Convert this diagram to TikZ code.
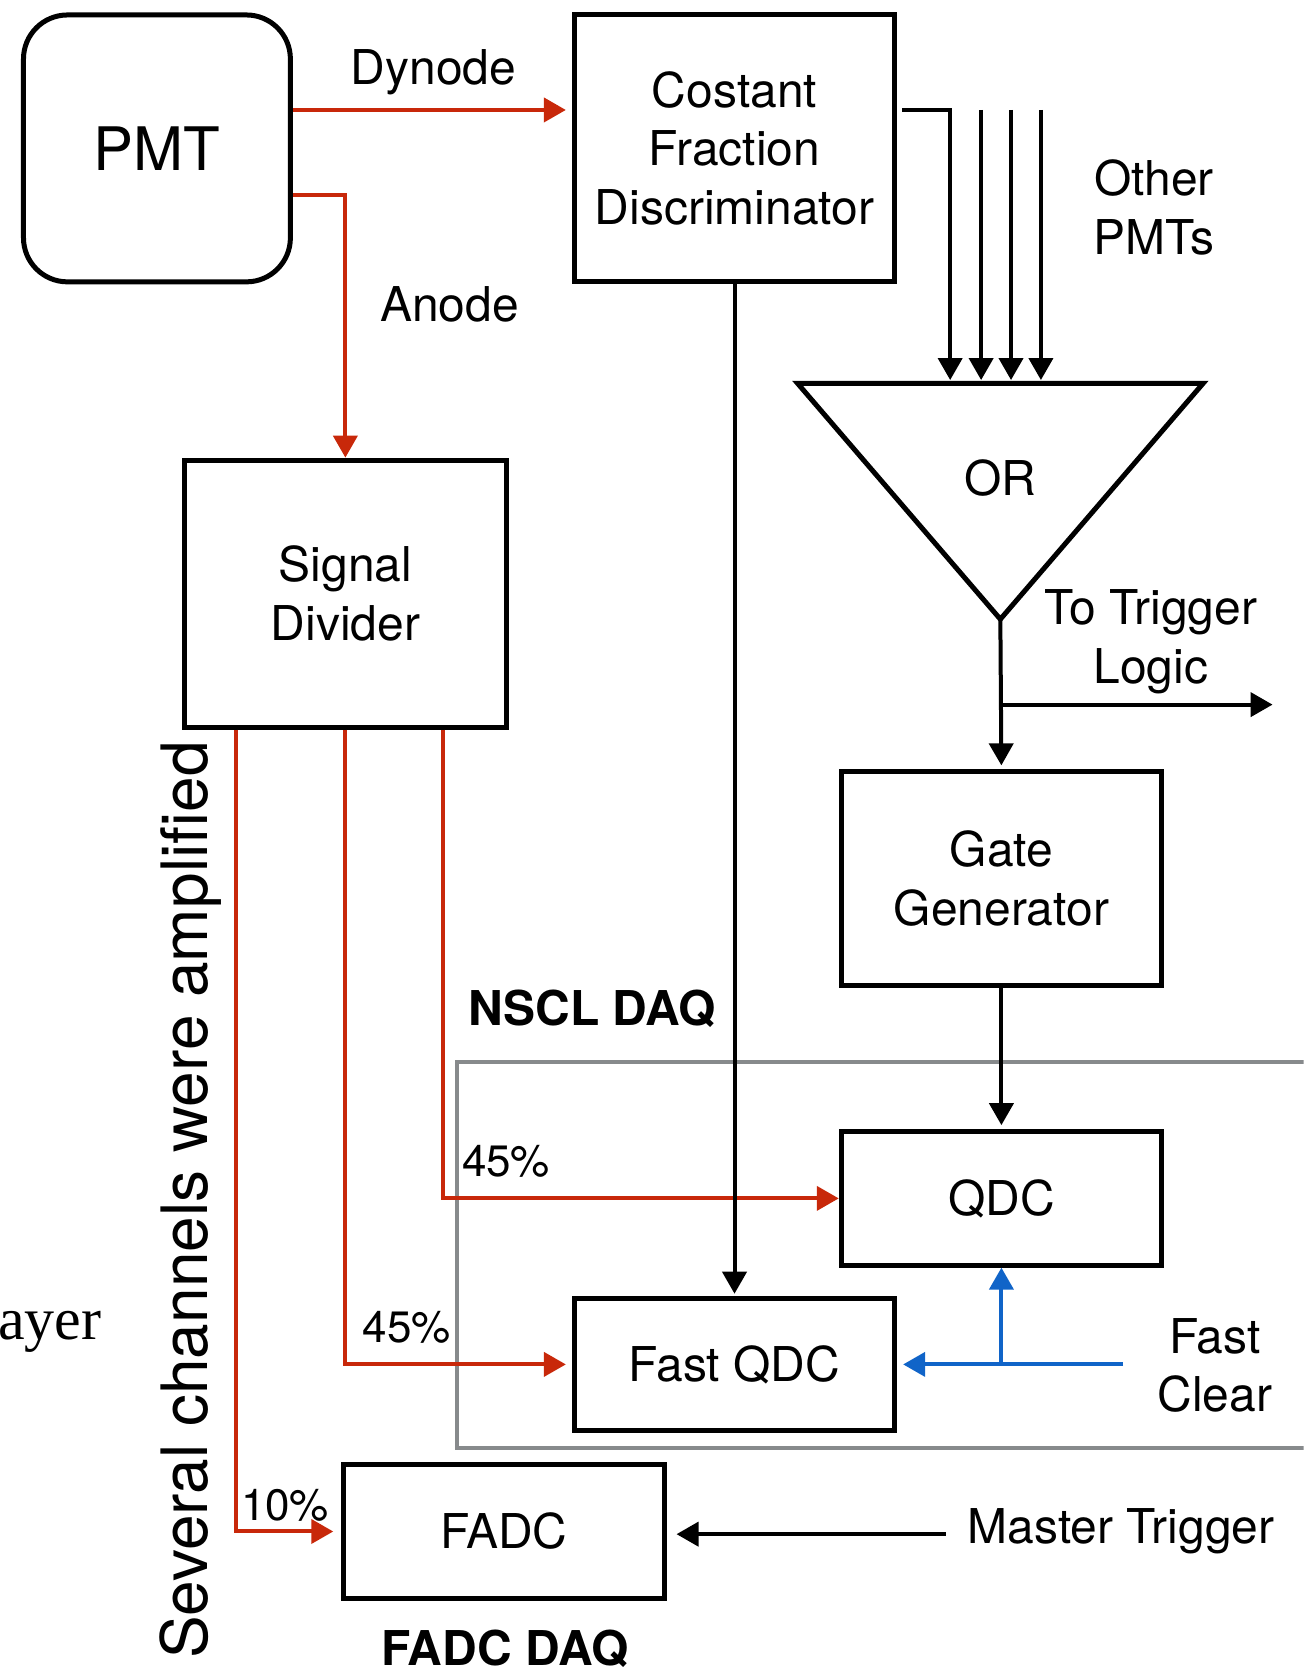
\documentclass[tikz,border=0pt]{standalone}
\usepackage{fontspec}
\setmainfont{TeX Gyre Heros}
\newfontfamily\serifface{Liberation Serif}
\usetikzlibrary{arrows.meta}
\definecolor{sigred}{RGB}{200,40,10}
\definecolor{fcblue}{RGB}{16,100,200}
\definecolor{daqgray}{RGB}{135,138,140}
\begin{document}
\begin{tikzpicture}[x=0.534pt,y=-0.534pt,
  box/.style={draw,line width=2.5pt,minimum width=160.2pt,inner sep=0pt,align=center,
    font=\fontsize{24}{29.4}\selectfont},
  lbl/.style={inner sep=0pt,align=center,font=\fontsize{24}{29.4}\selectfont},
  pct/.style={inner sep=0pt,font=\fontsize{22}{26}\selectfont},
  daq/.style={inner sep=0pt,font=\fontsize{24}{29}\selectfont\bfseries},
  tipp/.style={-{Triangle[length=11pt,width=12pt]}},
  sig/.style={sigred,line width=2pt,tipp},
  blk/.style={black,line width=2pt,tipp},
  blu/.style={fcblue,line width=2pt,tipp}
]
\useasboundingbox (0,0) rectangle (1221,1568);
\clip (0,0) rectangle (1221,1568);

% NSCL DAQ frame
\draw[daqgray,line width=2pt] (428,995) rectangle (1240,1356);

% boxes
\node[box,rounded corners=22pt,minimum width=133.5pt,minimum height=133.5pt,
  font=\fontsize{30}{36}\selectfont] (pmt) at (147,139) {PMT};
\node[box,minimum height=133.5pt] (cfd) at (688,139) {Costant\\Fraction\\Discriminator};
\node[box,minimum width=160.7pt,minimum height=133.5pt] (sd) at (323.5,556) {Signal\\Divider};
\node[box,minimum height=106.8pt] (gg) at (938,823) {Gate\\Generator};
\node[box,minimum height=66.75pt] (qdc) at (938,1122.5) {QDC};
\node[box,minimum height=66.2pt] (fqdc) at (688,1278) {Fast QDC};
\node[box,minimum height=66.75pt] (fadc) at (472,1434.5) {FADC};

% OR gate
\coordinate (ortl) at (747,359);
\coordinate (ortr) at (1127,359);
\coordinate (orb) at (937,580);
\draw[line width=2.5pt,line join=miter] (ortl) -- (ortr) -- (orb) -- cycle;
\node[lbl] (ortxt) at (937,448) {OR};

% helper coordinates
\coordinate (ydyn) at (0,103);
\coordinate (yan) at (0,183);
\coordinate (x10) at (221,0);
\coordinate (x45) at (415,0);
\coordinate (or1) at (890,356);
\coordinate (or2s) at (919,103);
\coordinate (or2) at (919,356);
\coordinate (or3s) at (947,103);
\coordinate (or3) at (947,356);
\coordinate (or4s) at (975,103);
\coordinate (or4) at (975,356);
\coordinate (brk) at (937,660);
\coordinate (trg) at (1192,660);
\coordinate (fcs) at (1052,1278);
\coordinate (fcb) at (938,1278);
\coordinate (mts) at (886,1437);

% red signal lines
\draw[sig,shorten >=3pt] (pmt.east |- ydyn) -- (cfd.west |- ydyn);
\draw[sig] (pmt.east |- yan) -| (sd.north);
\draw[sig,shorten >=4pt] (sd.south -| x10) |- (fadc.west);
\draw[sig,shorten >=3pt] (sd.south) |- (fqdc.west);
\draw[sig] (sd.south -| x45) |- (qdc.west);

% black logic lines
\draw[blk,shorten >=1pt] (cfd.south) -- (fqdc.north);
\draw[blk,shorten <=2.5pt] (cfd.east |- ydyn) -| (or1);
\draw[blk] (or2s) -- (or2);
\draw[blk] (or3s) -- (or3);
\draw[blk] (or4s) -- (or4);
\draw[blk,shorten >=2pt] (orb) -- (gg.north);
\draw[blk] (brk) -- (trg);
\draw[blk,shorten >=2pt] (gg.south) -- (qdc.north);
\draw[blk,shorten >=5pt] (mts) -- (fadc.east |- mts);

% fast clear
\draw[blu,shorten >=3pt] (fcs) -- (fqdc.east);
\draw[blu] (fcb) -- (qdc.south);

% labels
\node[lbl,anchor=base] (ldyn) at (406,79) {Dynode};
\node[lbl,anchor=base] (lan) at (421,301) {Anode};
\node[lbl] (lother) at (1081,194) {Other\\PMTs};
\node[lbl] (ltrig) at (1078,601) {To Trigger\\Logic};
\node[lbl] (lfc) at (1138,1279) {Fast\\Clear};
\node[lbl] (lmt) at (1050,1434) {Master Trigger};
\node[pct] (p45a) at (474,1088) {45\%};
\node[pct] (p45b) at (381,1243) {45\%};
\node[pct] (p10) at (267,1410) {10\%};
\node[daq] (nscl) at (555,945) {NSCL DAQ};
\node[daq] (fadcdaq) at (473,1544) {FADC DAQ};
\node[inner sep=0pt,font=\fontsize{32}{38}\selectfont,rotate=90,anchor=base] (amp)
  at (194,1124) {Several channels were amplified};
\node[inner sep=0pt,font=\serifface\fontsize{30}{36}\selectfont,anchor=base west] (ayer)
  at (-2,1255) {ayer};
\end{tikzpicture}
\end{document}
